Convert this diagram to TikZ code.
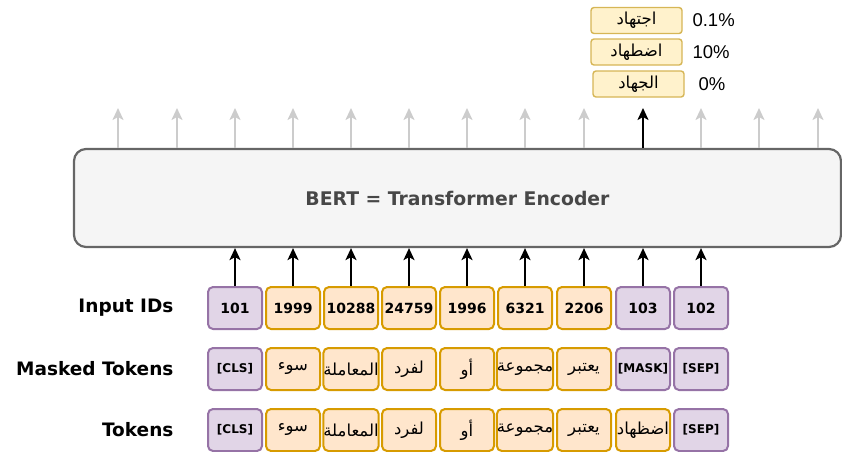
\documentclass[tikz,border=0pt]{standalone}
\usepackage{fontspec}
\usepackage{tikz}
\usetikzlibrary{arrows.meta}
\setmainfont{DejaVu Sans}
\newfontfamily\arabicfont[Script=Arabic]{DejaVu Sans}
\newfontfamily\arialfont{Liberation Sans}
\TeXXeTstate=1
\definecolor{encfill}{HTML}{F5F5F5}
\definecolor{encline}{HTML}{666666}
\definecolor{tokfill}{HTML}{FFE6CC}
\definecolor{tokline}{HTML}{D79B00}
\definecolor{spfill}{HTML}{E1D5E7}
\definecolor{spline}{HTML}{9673A6}
\definecolor{predfill}{HTML}{FFF2CC}
\definecolor{predline}{HTML}{D6B656}
\definecolor{outgray}{HTML}{CCCCCC}
\newcommand{\ar}[1]{\raisebox{-2pt}{\arabicfont\mdseries\fontsize{16.5}{18}\selectfont\beginR #1\endR}}
\tikzset{
  box/.style={draw, line width=2pt, rounded corners=5pt, minimum width=54pt,
    minimum height=42pt, inner sep=0pt, font=\bfseries\fontsize{12}{14}\selectfont},
  wordbox/.style={box, fill=tokfill, draw=tokline},
  specbox/.style={box, fill=spfill, draw=spline},
  idfont/.style={font=\bfseries\fontsize{14}{16}\selectfont},
  predbox/.style={draw=predline, fill=predfill, line width=1.4pt, rounded corners=3pt,
    minimum width=91pt, minimum height=26pt, inner sep=0pt},
  rowlabel/.style={anchor=east, font=\bfseries\fontsize{18.5}{20}\selectfont},
  pct/.style={anchor=west, font=\arialfont\fontsize{18.5}{20}\selectfont},
  up/.style={-{Stealth[length=12pt,width=11pt,inset=3pt]}, line width=2.2pt},
}
\begin{document}
\begin{tikzpicture}[x=1pt,y=-1pt]
  \useasboundingbox (0,0) rectangle (842,451);
  \node[draw=encline, fill=encfill, line width=2.2pt, rounded corners=12pt,
        minimum width=767pt, minimum height=98pt, text=encline!70!black,
        font=\bfseries\fontsize{18.8}{20}\selectfont] (bert) at (457.5,198) {BERT = Transformer Encoder};

  % outputs
  \foreach \x [count=\i] in {118,177,235,293,351,409,467,525,584,643,701,759,818} {
    \coordinate (o\i) at (\x,108);
    \ifnum\i=10
      \draw[up, black] (bert.north -| o\i) -- (o\i);
    \else
      \draw[up, outgray] (bert.north -| o\i) -- (o\i);
    \fi
  }

  \node[predbox] (p1) at (636.5,20.5) {\ar{اجتهاد}};
  \node[predbox] (p2) at (636.5,52) {\ar{اضطهاد}};
  \node[predbox] (p3) at (638.5,84) {\ar{الجهاد}};
  \node[pct] (v1) at (689,20.5) {0.1\%};
  \node[pct] (v2) at (689,52) {10\%};
  \node[pct] (v3) at (695,84) {0\%};

  % row labels
  \node[rowlabel] (lid) at (177,308) {Input IDs};
  \node[rowlabel] (lmask) at (177,369) {Masked Tokens};
  \node[rowlabel] (ltok) at (177,430) {Tokens};

  % input ids
  \node[specbox, idfont] (id1) at (235,308) {101};
  \node[wordbox, idfont] (id2) at (293,308) {1999};
  \node[wordbox, idfont] (id3) at (351,308) {10288};
  \node[wordbox, idfont] (id4) at (409,308) {24759};
  \node[wordbox, idfont] (id5) at (467,308) {1996};
  \node[wordbox, idfont] (id6) at (525,308) {6321};
  \node[wordbox, idfont] (id7) at (584,308) {2206};
  \node[specbox, idfont] (id8) at (643,308) {103};
  \node[specbox, idfont] (id9) at (701,308) {102};

  \foreach \i in {1,...,9}
    \draw[up, black] (id\i.north) -- (id\i.north |- bert.south);

  % masked tokens
  \node[specbox] (m1) at (235,369) {[CLS]};
  \node[wordbox] (m2) at (293,369) {\ar{سوء}};
  \node[wordbox] (m3) at (351,369) {\ar{المعاملة}};
  \node[wordbox] (m4) at (409,369) {\ar{لفرد}};
  \node[wordbox] (m5) at (467,369) {\ar{أو}};
  \node[wordbox] (m6) at (525,369) {\ar{مجموعة}};
  \node[wordbox] (m7) at (584,369) {\ar{يعتبر}};
  \node[specbox] (m8) at (643,369) {[MASK]};
  \node[specbox] (m9) at (701,369) {[SEP]};

  % tokens
  \node[specbox] (t1) at (235,430) {[CLS]};
  \node[wordbox] (t2) at (293,430) {\ar{سوء}};
  \node[wordbox] (t3) at (351,430) {\ar{المعاملة}};
  \node[wordbox] (t4) at (409,430) {\ar{لفرد}};
  \node[wordbox] (t5) at (467,430) {\ar{أو}};
  \node[wordbox] (t6) at (525,430) {\ar{مجموعة}};
  \node[wordbox] (t7) at (584,430) {\ar{يعتبر}};
  \node[wordbox] (t8) at (643,430) {\ar{اضظهاد}};
  \node[specbox] (t9) at (701,430) {[SEP]};
\end{tikzpicture}
\end{document}
